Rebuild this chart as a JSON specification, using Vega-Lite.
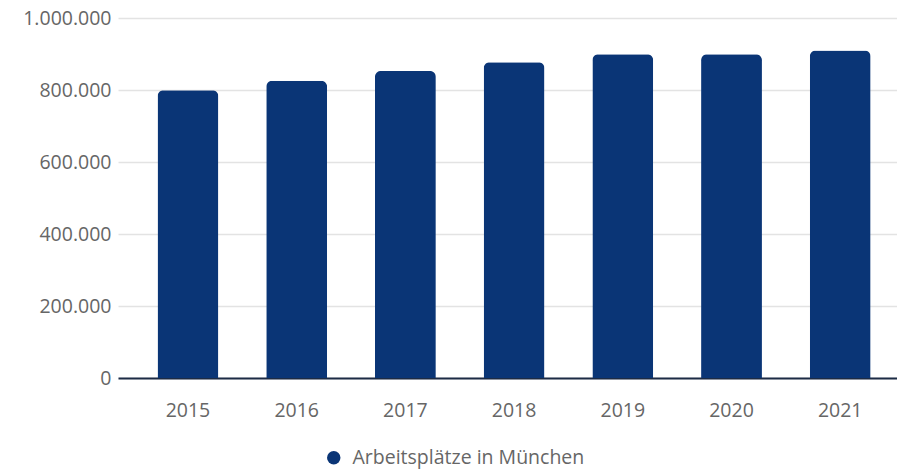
{
  "$schema": "https://vega.github.io/schema/vega-lite/v6.json",
  "width": 779,
  "height": 360,
  "autosize": {"type": "none"},
  "padding": {"left": 118, "top": 18, "right": 0, "bottom": 93},
  "background": "white",
  "config": {
    "view": {"stroke": null},
    "font": "Open Sans",
    "locale": {"number": {"decimal": ",", "thousands": ".", "grouping": [3], "currency": ["", " €"]}}
  },
  "data": {
    "values": [
      {"jahr": "2015", "wert": 799000, "serie": "Arbeitsplätze in München"},
      {"jahr": "2016", "wert": 826000, "serie": "Arbeitsplätze in München"},
      {"jahr": "2017", "wert": 853000, "serie": "Arbeitsplätze in München"},
      {"jahr": "2018", "wert": 877000, "serie": "Arbeitsplätze in München"},
      {"jahr": "2019", "wert": 899000, "serie": "Arbeitsplätze in München"},
      {"jahr": "2020", "wert": 899000, "serie": "Arbeitsplätze in München"},
      {"jahr": "2021", "wert": 910000, "serie": "Arbeitsplätze in München"}
    ]
  },
  "mark": {"type": "bar", "cornerRadiusTopLeft": 6, "cornerRadiusTopRight": 6},
  "encoding": {
    "x": {
      "field": "jahr", "type": "ordinal",
      "scale": {"paddingInner": 0.44, "paddingOuter": 0.303, "align": 0.6},
      "axis": {
        "title": null, "labelAngle": 0, "ticks": false,
        "labelFontSize": 19.5, "labelColor": "#666666", "labelPadding": 23,
        "domainColor": "#1c2b45", "domainWidth": 2, "grid": false
      }
    },
    "y": {
      "field": "wert", "type": "quantitative",
      "scale": {"domain": [0, 1000000], "nice": false},
      "axis": {
        "title": null, "values": [0, 200000, 400000, 600000, 800000, 1000000],
        "format": ",d", "domain": false, "ticks": false,
        "labelFontSize": 19.5, "labelColor": "#666666", "labelPadding": 7,
        "gridColor": "#e3e3e3", "gridWidth": 1.5
      }
    },
    "color": {
      "field": "serie", "type": "nominal",
      "scale": {"range": ["#0a3576"]},
      "legend": {
        "title": null, "orient": "none", "legendX": 206, "legendY": 430,
        "symbolType": "circle", "symbolSize": 180, "symbolStrokeWidth": 0,
        "labelFontSize": 19.5, "labelColor": "#666666", "labelOffset": 9, "labelLimit": 400
      }
    }
  }
}
